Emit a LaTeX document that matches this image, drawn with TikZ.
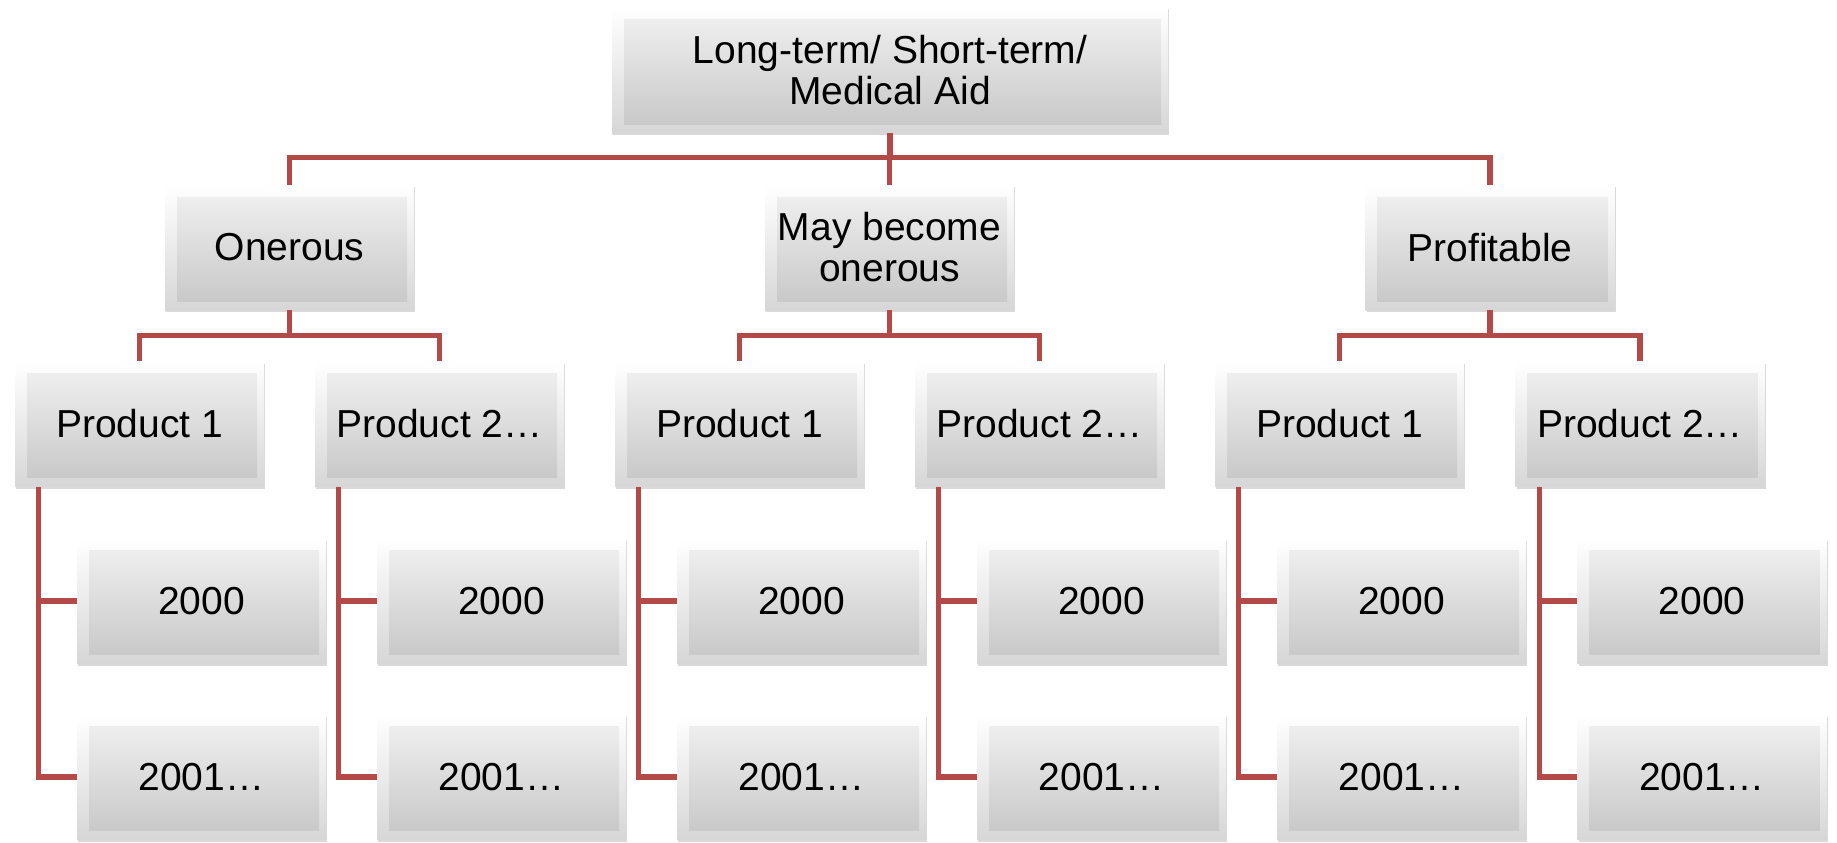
\documentclass[tikz,border=0pt]{standalone}
\usepackage{fontspec}
\setmainfont{Liberation Sans}
\usepackage{tikz}
\usetikzlibrary{shadows}
\definecolor{linkred}{HTML}{B34A48}

\begin{document}
\begin{tikzpicture}[x=0.5pt,y=-0.5pt]
\tikzstyle{box}=[rectangle,inner sep=0pt,align=center,minimum width=124.5pt,minimum height=62.5pt,
  font=\fontsize{19.5}{20.5}\selectfont,top color=white,bottom color=gray!32,
  drop shadow={shadow xshift=0.6pt,shadow yshift=-1.2pt,opacity=0.3,fill=gray},
  path picture={\shade[top color=gray!10,bottom color=gray!45]
    ([shift={(6pt,-6pt)}]path picture bounding box.north west) rectangle
    ([shift={(-3.5pt,4.5pt)}]path picture bounding box.south east);}]
\tikzstyle{link}=[draw=linkred,line width=2.6pt]
\useasboundingbox (0,0) rectangle (1837,842);
% top
\node [box,minimum width=278pt,minimum height=63pt] (top) at (890,70) {Long-term/ Short-term/\\Medical Aid};
% second row
\node [box] (onerous) at (289.5,247.5) {Onerous};
\node [box] (maybe) at (889.5,247.5) {May become\\onerous};
\node [box] (profit) at (1490,247.5) {Profitable};
% products
\node [box] (on1) at (139.5,424) {Product 1};
\node [box] (on2) at (439.5,424) {Product 2…};
\node [box] (mb1) at (739.5,424) {Product 1};
\node [box] (mb2) at (1039.5,424) {Product 2…};
\node [box] (pr1) at (1339.5,424) {Product 1};
\node [box] (pr2) at (1640,424) {Product 2…};
% years
\node [box] (on1a) at (201.5,601) {2000};
\node [box] (on1b) at (201.5,777) {2001…};
\node [box] (on2a) at (501.5,601) {2000};
\node [box] (on2b) at (501.5,777) {2001…};
\node [box] (mb1a) at (801.5,601) {2000};
\node [box] (mb1b) at (801.5,777) {2001…};
\node [box] (mb2a) at (1101.5,601) {2000};
\node [box] (mb2b) at (1101.5,777) {2001…};
\node [box] (pr1a) at (1401.5,601) {2000};
\node [box] (pr1b) at (1401.5,777) {2001…};
\node [box] (pr2a) at (1702,601) {2000};
\node [box] (pr2b) at (1702,777) {2001…};
% connectors
\draw [link] (top.south) -- ++(0,24) -| (onerous.north);
\draw [link] (top.south) -- ++(0,24) -| (maybe.north);
\draw [link] (top.south) -- ++(0,24) -| (profit.north);
\draw [link] (onerous.south) -- ++(0,25) -| (on1.north);
\draw [link] (onerous.south) -- ++(0,25) -| (on2.north);
\draw [link] (maybe.south) -- ++(0,25) -| (mb1.north);
\draw [link] (maybe.south) -- ++(0,25) -| (mb2.north);
\draw [link] (profit.south) -- ++(0,25) -| (pr1.north);
\draw [link] (profit.south) -- ++(0,25) -| (pr2.north);
\draw [link] ([xshift=12pt]on1.south west) |- (on1a.west);
\draw [link] ([xshift=12pt]on1.south west) |- (on1b.west);
\draw [link] ([xshift=12pt]on2.south west) |- (on2a.west);
\draw [link] ([xshift=12pt]on2.south west) |- (on2b.west);
\draw [link] ([xshift=12pt]mb1.south west) |- (mb1a.west);
\draw [link] ([xshift=12pt]mb1.south west) |- (mb1b.west);
\draw [link] ([xshift=12pt]mb2.south west) |- (mb2a.west);
\draw [link] ([xshift=12pt]mb2.south west) |- (mb2b.west);
\draw [link] ([xshift=12pt]pr1.south west) |- (pr1a.west);
\draw [link] ([xshift=12pt]pr1.south west) |- (pr1b.west);
\draw [link] ([xshift=12pt]pr2.south west) |- (pr2a.west);
\draw [link] ([xshift=12pt]pr2.south west) |- (pr2b.west);
\end{tikzpicture}
\end{document}
